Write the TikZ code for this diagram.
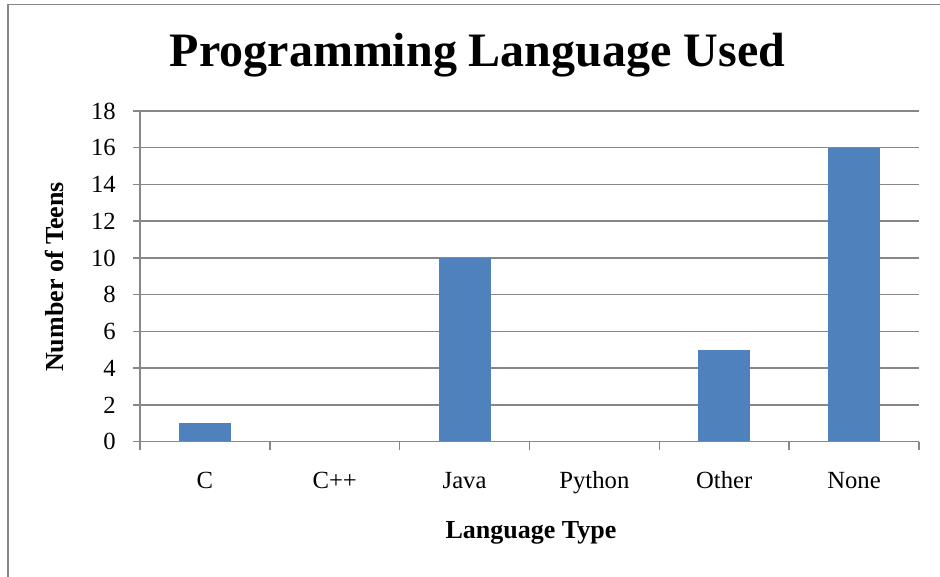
\documentclass[tikz,border=0pt]{standalone}
\usepackage{fontspec}
\setmainfont{Liberation Serif}
\usepackage{xcolor}
\definecolor{barblue}{HTML}{4F81BD}
\definecolor{gridgray}{HTML}{878787}
\tikzset{grid line/.style={gridgray, line width=1.1pt},
  ticklabel/.style={inner sep=0pt, font=\fontsize{18.5}{20}\selectfont},
  axistitle/.style={inner sep=0pt, font=\fontsize{19.5}{21}\selectfont\bfseries}}

\begin{document}
\begin{tikzpicture}[x=0.75pt,y=-0.75pt]
        \useasboundingbox (0,0) rectangle (940,577);
        \draw[gridgray, line width=1.2pt] (8,580) -- (8,4.5) -- (945,4.5);
        \node[anchor=base, inner sep=0pt] (title) at (477.5,67) {\fontsize{36}{40}\selectfont\bfseries Programming Language Used};
        \begin{scope}[shift={(140,441.7)}, x=97.37pt, y=13.78pt]
        \foreach \v in {2,4,...,18}
            \draw[grid line] (-0.054,\v) -- (6,\v);
        \foreach \v in {0,2,...,18}
            \node[ticklabel, anchor=east] (y\v) at (-0.185,\v) {\v};
        \fill[barblue] (0.3,0) rectangle (0.7,1);
        \fill[barblue] (2.3,0) rectangle (2.7,10);
        \fill[barblue] (4.3,0) rectangle (4.7,5);
        \fill[barblue] (5.3,0) rectangle (5.7,16);
        \draw[grid line] (-0.054,0) -- (6,0);
        \draw[grid line] (0,18) -- (0,-0.44);
        \foreach \i in {1,...,6}
            \draw[grid line] (\i,0) -- (\i,-0.44);
        \foreach \lab [count=\i from 0] in {C,C++,Java,Python,Other,None}
            \node[ticklabel, anchor=base] (cat\i) at (\i+0.5,-2.53) {\lab};
        \end{scope}
        \node[axistitle, anchor=base] (xtitle) at (531,538) {Language Type};
        \node[axistitle, anchor=base, rotate=90] (ytitle) at (63,277) {Number of Teens};
    \end{tikzpicture}
\end{document}
